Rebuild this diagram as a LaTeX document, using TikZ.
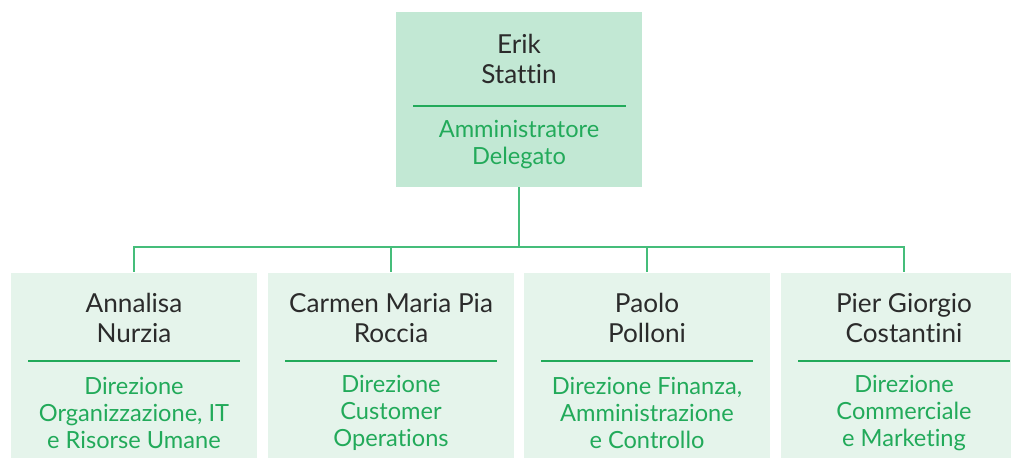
\documentclass[tikz,border=0pt]{standalone}
\usepackage{fontspec}
\setmainfont{Lato}[Ligatures={NoCommon,NoRequired,NoContextual}]
\usetikzlibrary{positioning}

\definecolor{topfill}{HTML}{C2E8D4}
\definecolor{subfill}{HTML}{E5F4EB}
\definecolor{rolegreen}{HTML}{22AA5A}
\definecolor{wiregreen}{HTML}{45BD7A}
\definecolor{namegray}{HTML}{2B2B2B}

\tikzset{
  box/.style={fill=#1, draw=none, minimum width=6.15cm, inner sep=0pt},
  person/.style={align=center, text=namegray, font=\fontsize{18.6}{21.5}\selectfont},
  role/.style={align=center, text=rolegreen, font=\fontsize{16.8}{19.2}\selectfont},
  sepline/.style={draw=rolegreen, line width=1.2pt},
  wire/.style={draw=wiregreen, line width=1.4pt}
}

\begin{document}
\begin{tikzpicture}[x=0.025cm, y=-0.025cm]
	\useasboundingbox (0,0) rectangle (1011,458);

	% Top: CEO
	\node[box=topfill, minimum height=4.375cm] (ceo) at (519,99.5) {};
	\node[person] (ceoname) at (519,59) {Erik\\Stattin};
	\node[role] (ceorole) at (519,145) {Amministratore\\Delegato};
	\draw[sepline] (413,106) -- (626,106);

	% Bottom: the four directors
	\foreach \i/\x/\who/\what in {
		1/134/{Annalisa\\Nurzia}/{Direzione\\Organizzazione, IT\\e Risorse Umane},
		2/391/{Carmen Maria Pia\\Roccia}/{Direzione\\Customer\\Operations},
		3/647/{Paolo\\Polloni}/{Direzione Finanza,\\Amministrazione\\e Controllo},
		4/904/{Pier Giorgio\\Costantini}/{Direzione\\Commerciale\\e Marketing}} {
		\node[box=subfill, minimum height=4.63cm] (b\i) at (\x,365.3) {};
		\node[person] (n\i) at (\x,318) {\who};
		\node[role] (r\i) at (\x,413) {\what};
		\draw[sepline] (\x-106,360.7) -- (\x+106,360.7);
	}

	% Connectors
	\coordinate (bus) at (519,246.7);
	\draw[wire] (ceo.south) -- (bus);
	\foreach \i in {1,...,4}
		\draw[wire] (bus) -| (b\i.north);
\end{tikzpicture}
\end{document}
